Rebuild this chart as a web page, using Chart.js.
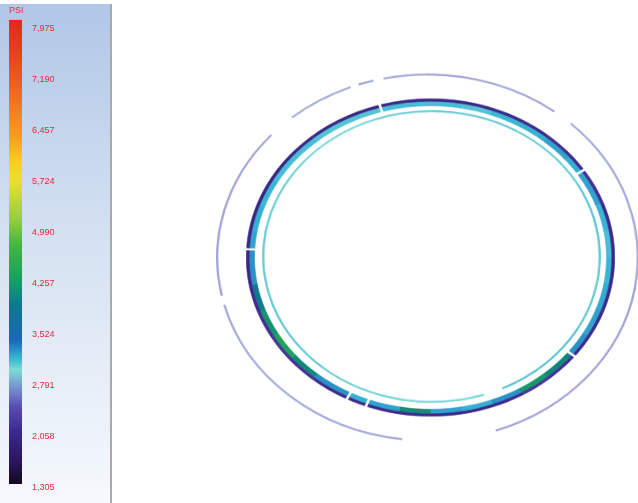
<!DOCTYPE html>
<html><head><meta charset="utf-8">
<script src="https://cdn.jsdelivr.net/npm/chart.js@4.4.1/dist/chart.umd.min.js"></script>
<style>
html,body{margin:0;padding:0;background:#fff;}
#wrap{position:relative;width:638px;height:503px;overflow:hidden;background:#fff;}
#panel{position:absolute;left:0;top:4px;width:110px;height:499px;background:linear-gradient(#b1c7e7,#d7e3f2 50%,#f6f9fd);border-right:2px solid #a9a9a9;}
#legendCanvas{position:absolute;left:0;top:0;}
.ring{position:absolute;transform-origin:50% 50%;}
</style></head><body>
<div id="wrap">
  <div id="panel"></div>
  <canvas id="legendCanvas" width="110" height="503"></canvas>
  <canvas id="outerRing" class="ring" width="423" height="423" style="left:215.5px;top:45.5px;transform:scaleY(0.87);"></canvas>
  <canvas id="mainRing" class="ring" width="369" height="369" style="left:246px;top:72.5px;transform:scaleY(0.862);"></canvas>
  <canvas id="innerRing" class="ring" width="339" height="339" style="left:262px;top:87px;transform:scaleY(0.864);"></canvas>
</div>
<script>
// ---------- DATA ----------
// Colour-bar tick labels (PSI)
const legendTicks = ['1,305','2,058','2,791','3,524','4,257','4,990','5,724','6,457','7,190','7,975'];
// PSI range covered by the colour bar
const colorbarRange = [1363, 8111];

// Main contact band: angular spans (degrees, clockwise from top) and PSI per span (null = break)
const mainSpans = [10,10,10,10,10,6,1,13,10,10,10,10,10,8,1,11,10,10,10,10,10,10,1,5.5,1,12.5,10,10,10,10,12.5,1,6.5,10,10,10,10,10,13.5,1,15.5];
const mainEdgePsi = [2100,2080,2120,2150,2180,2150,null,2200,2150,2120,2100,2150,2150,2150,null,2200,2250,2150,2100,2100,2150,2120,null,2100,null,2150,2200,2250,2200,2150,2100,null,2100,2080,2060,2080,2100,2080,2060,null,2080];
const mainCorePsi = [3150,3120,3180,3200,3250,3200,null,3250,3180,3150,3180,3220,3250,3300,null,4100,4250,3300,3200,3250,4150,3250,null,3200,null,3300,4100,4400,4200,4000,3300,null,3250,3200,3180,3150,3150,3120,3120,null,3150];

// Inner thin ring
const innerSpans = [30,30,30,30,35,7,28,30,30,30,30,30,20];
const innerPsi   = [3100,3080,3120,3100,3150,null,3050,3080,3120,3100,3080,3050,3080];

// Outer faint ring
const outerSpans = [37,6,57,61,26,68,3,54,8,18.5,2.5,4,3,12];
const outerPsi   = [2600,null,2650,2600,null,2650,null,2600,null,2650,null,2600,null,2650];

// ---------- COLOUR MAP (style) ----------
const palette = [
  [1305,'#0c0614'],[1363,'#140a20'],[1696,'#2a1660'],[2128,'#3a2a8c'],[2481,'#5a4cb0'],
  [2692,'#7080cc'],[3017,'#80dad4'],[3185,'#38b4d4'],[3440,'#1c68b8'],[3961,'#0f7890'],
  [4313,'#16a060'],[4807,'#44b444'],[5159,'#90cc40'],[5724,'#e8e030'],[6006,'#f8d020'],
  [6358,'#f5a020'],[6922,'#f07020'],[7507,'#e84520'],[8111,'#e02a20']
];
const tickPsi = legendTicks.map(s => Number(s.replace(',', '')));

function psiToIndex(p){
  const n = tickPsi.length;
  if (p <= tickPsi[0]) return (p - tickPsi[0]) / (tickPsi[1] - tickPsi[0]);
  for (let i = 0; i < n - 1; i++) {
    if (p <= tickPsi[i+1]) return i + (p - tickPsi[i]) / (tickPsi[i+1] - tickPsi[i]);
  }
  return (n - 1) + (p - tickPsi[n-1]) / (tickPsi[n-1] - tickPsi[n-2]);
}
function hexToRgb(h){ return [parseInt(h.slice(1,3),16),parseInt(h.slice(3,5),16),parseInt(h.slice(5,7),16)]; }
function psiColor(p, a){
  if (p == null) return 'rgba(0,0,0,0)';
  let c = hexToRgb(palette[palette.length-1][1]);
  if (p <= palette[0][0]) c = hexToRgb(palette[0][1]);
  else for (let i = 0; i < palette.length - 1; i++) {
    if (p <= palette[i+1][0]) {
      const t = (p - palette[i][0]) / (palette[i+1][0] - palette[i][0]);
      const c0 = hexToRgb(palette[i][1]), c1 = hexToRgb(palette[i+1][1]);
      c = c0.map((v,k) => Math.round(v + (c1[k]-v)*t));
      break;
    }
  }
  return 'rgba(' + c[0] + ',' + c[1] + ',' + c[2] + ',' + (a == null ? 1 : a) + ')';
}

// ---------- LEGEND (colour bar) ----------
const lo = psiToIndex(colorbarRange[0]), hi = psiToIndex(colorbarRange[1]);
function barGradient(ctx){
  const chart = ctx.chart, y = chart.scales && chart.scales.y;
  if (!y || !chart.chartArea) return palette[0][1];
  const y0 = y.getPixelForValue(lo), y1 = y.getPixelForValue(hi);
  const g = chart.ctx.createLinearGradient(0, y0, 0, y1);
  palette.forEach(([p, c]) => {
    const t = Math.min(1, Math.max(0, (psiToIndex(p) - lo) / (hi - lo)));
    g.addColorStop(t, c);
  });
  return g;
}
new Chart(document.getElementById('legendCanvas'), {
  type: 'bar',
  data: { labels: ['PSI'], datasets: [{ data: [[lo, hi]], backgroundColor: barGradient, borderWidth: 0, borderSkipped: false, barPercentage: 1, categoryPercentage: 1 }] },
  options: {
    responsive: false, animation: false, events: [],
    layout: { padding: { left: 9, right: 8, top: 0, bottom: 6 } },
    plugins: {
      legend: { display: false }, tooltip: { enabled: false },
      title: { display: true, text: 'PSI', align: 'start', color: '#e0303c', font: { family: 'Liberation Sans', size: 9, weight: 'normal' }, padding: { top: 5, bottom: 4 } }
    },
    scales: {
      x: { display: false },
      y: {
        position: 'right', min: 0, max: hi,
        grid: { display: false, drawTicks: false }, border: { display: false },
        afterBuildTicks: s => { s.ticks = legendTicks.map((_, i) => ({ value: i })); },
        afterFit: s => { s.width = 80; },
        ticks: { padding: 10, color: '#e3283a', font: { family: 'Liberation Sans', size: 9 }, callback: (v, i) => legendTicks[i] }
      }
    }
  }
});

// ---------- RINGS ----------
function ringChart(id, datasets, cutoutPx){
  return new Chart(document.getElementById(id), {
    type: 'doughnut',
    data: { labels: datasets[0].data.map((_, i) => 'seg' + i), datasets },
    options: {
      responsive: false, animation: false, events: [], cutout: cutoutPx,
      layout: { padding: 0 },
      plugins: { legend: { display: false }, tooltip: { enabled: false } }
    }
  });
}
function ringSet(spans, psi, alpha, weight){
  const colors = psi.map(p => psiColor(p, alpha));
  return { data: spans, backgroundColor: colors, borderColor: colors, borderWidth: 0.6, weight: weight };
}
ringChart('outerRing', [ ringSet(outerSpans, outerPsi, 0.55, 1) ], 209.5);
ringChart('mainRing', [
  ringSet(mainSpans, mainEdgePsi, 1, 3),
  ringSet(mainSpans, mainCorePsi, 1, 5.5)
], 176);
ringChart('innerRing', [ ringSet(innerSpans, innerPsi, 0.9, 1) ], 167.5);
</script>
</body></html>
